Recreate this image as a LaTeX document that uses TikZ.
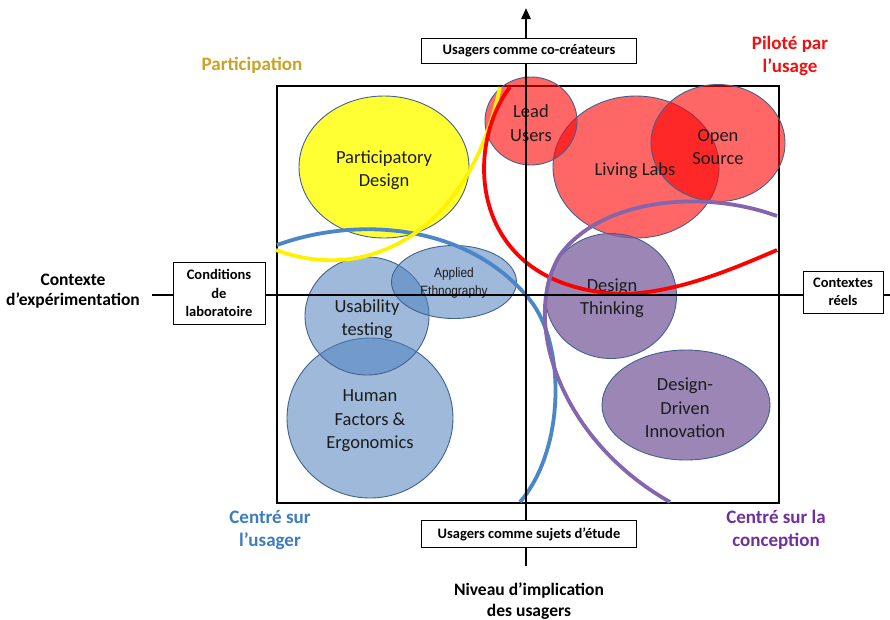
\documentclass[tikz,border=0pt]{standalone}
\usepackage{fontspec}
\setmainfont{Carlito}
\newfontfamily\arialn{Liberation Sans}[FakeStretch=0.88]
\usetikzlibrary{shapes.geometric,arrows.meta}
\definecolor{edgec}{HTML}{41628F}
\definecolor{yelf}{HTML}{FFFF33}
\definecolor{bluef}{HTML}{4F81BD}
\definecolor{purf}{HTML}{8064A2}
\definecolor{bluec}{HTML}{4A86C8}
\definecolor{yelc}{HTML}{FFF200}
\definecolor{purc}{HTML}{8466AE}
\definecolor{goldt}{HTML}{C9A227}
\definecolor{redt}{HTML}{EE1111}
\definecolor{bluet}{HTML}{3E7CC0}
\definecolor{purt}{HTML}{7030A0}
\definecolor{txt}{HTML}{1C1C1C}
\begin{document}
\begin{tikzpicture}[x=1pt,y=-1pt,
  blob/.style={ellipse, draw=edgec, line width=0.9pt, inner sep=0pt},
  yelb/.style={blob, fill=yelf},
  redb/.style={blob, fill=red, fill opacity=0.6},
  blueb/.style={blob, fill=bluef, fill opacity=0.55},
  purb/.style={blob, fill=purf, fill opacity=0.78},
  lbl/.style={align=center, text=txt, font=\fontsize{18.5}{23.5}\selectfont, inner sep=0pt},
  smalllbl/.style={align=center, text=txt, font=\arialn\fontsize{13.5}{18}\selectfont, inner sep=0pt},
  curve/.style={line width=3.8pt},
  axis/.style={line width=2.6pt},
  box/.style={draw, fill=white, line width=0.9pt, inner sep=0pt, align=center, font=\bfseries\fontsize{14.5}{18.5}\selectfont},
  outer/.style={align=center, font=\bfseries\fontsize{19}{23}\selectfont, inner sep=0pt},
  axlbl/.style={align=center, font=\bfseries\fontsize{17.5}{20.5}\selectfont, inner sep=0pt}
]
\useasboundingbox (0,0) rectangle (890,619);
\fill[white] (0,0) rectangle (890,619);

% frame
\node[draw, line width=1.6pt, minimum width=502pt, minimum height=417pt, inner sep=0pt] (frame) at (528,294.5) {};

% ellipses
\node[yelb, minimum width=170pt, minimum height=142pt] (pd) at (384,167) {};
\node[redb, minimum width=166pt, minimum height=142pt] (ll) at (636,167) {};
\node[redb, minimum width=134pt, minimum height=117pt] (os) at (718,143) {};
\node[redb, minimum width=92pt, minimum height=88pt] (lu) at (531,121) {};
\node[purb, minimum width=131pt, minimum height=125pt] (dt) at (611,296) {};
\node[purb, minimum width=168pt, minimum height=110pt] (ddi) at (686,405) {};
\node[blueb, minimum width=166pt, minimum height=160pt] (hfe) at (370,418) {};
\node[blueb, minimum width=124pt, minimum height=118pt] (ut) at (367,316) {};
\node[blueb, minimum width=125pt, minimum height=73pt] (ae) at (454,282) {};

% texts of ellipses
\node[lbl] (pd-t) at (384,170) {Participatory\\Design};
\node[lbl] (ll-t) at (635,171) {Living Labs};
\node[lbl] (os-t) at (718,147) {Open\\Source};
\node[lbl] (lu-t) at (531,123) {Lead\\Users};
\node[lbl] (dt-t) at (612,298) {Design\\Thinking};
\node[lbl] (ddi-t) at (685,408) {Design-\\Driven\\Innovation};
\node[lbl] (hfe-t) at (370,421) {Human\\Factors \&\\Ergonomics};
\node[lbl] (ut-t) at (367,319) {Usability\\testing};
\node[smalllbl] (ae-t) at (454,283) {Applied\\Ethnography};

% curves
\draw[curve, bluec] (277,245) .. controls (360,215) and (470,225) .. (530,300)
   .. controls (566,345) and (565,450) .. (520,502);
\draw[curve, yelc] (276,250) .. controls (370,285) and (470,230) .. (500,87);
\draw[curve, red] (510,87) .. controls (462,150) and (470,290) .. (625,294)
   .. controls (680,292) and (735,268) .. (777,250);
\draw[curve, purc] (777,216) .. controls (700,188) and (600,200) .. (560,255)
   .. controls (520,320) and (560,440) .. (670,502);

% axes
\coordinate (ytop) at (526,8);
\coordinate (ybot) at (526,566);
\coordinate (xl) at (152,295);
\coordinate (xr) at (890,295);
\draw[axis] (xl) -- (xr);
\draw[axis, -{Triangle[length=11pt,width=9pt]}] (ybot) -- (ytop);

% boxes
\node[box, minimum width=215pt, minimum height=25pt] (top) at (529,51) {Usagers comme co-créateurs};
\node[box, minimum width=215pt, minimum height=27pt] (bot) at (529,534) {Usagers comme sujets d’étude};
\node[box, minimum width=92pt, minimum height=62pt] (lab) at (219,293) {Conditions\\de\\laboratoire};
\node[box, minimum width=80pt, minimum height=42pt] (reel) at (843,292) {Contextes\\réels};

% outer labels
\node[outer, text=goldt] (part) at (252,65) {Participation};
\node[outer, text=redt] (pilote) at (790,56) {Piloté par\\l’usage};
\node[outer, text=bluet] (cusager) at (270,530) {Centré sur\\l’usager};
\node[outer, text=purt] (cconc) at (776,530) {Centré sur la\\conception};
\node[axlbl] (ctx) at (73,291) {Contexte\\d’expérimentation};
\node[axlbl] (niv) at (529,601) {Niveau d’implication\\des usagers};
\end{tikzpicture}
\end{document}
